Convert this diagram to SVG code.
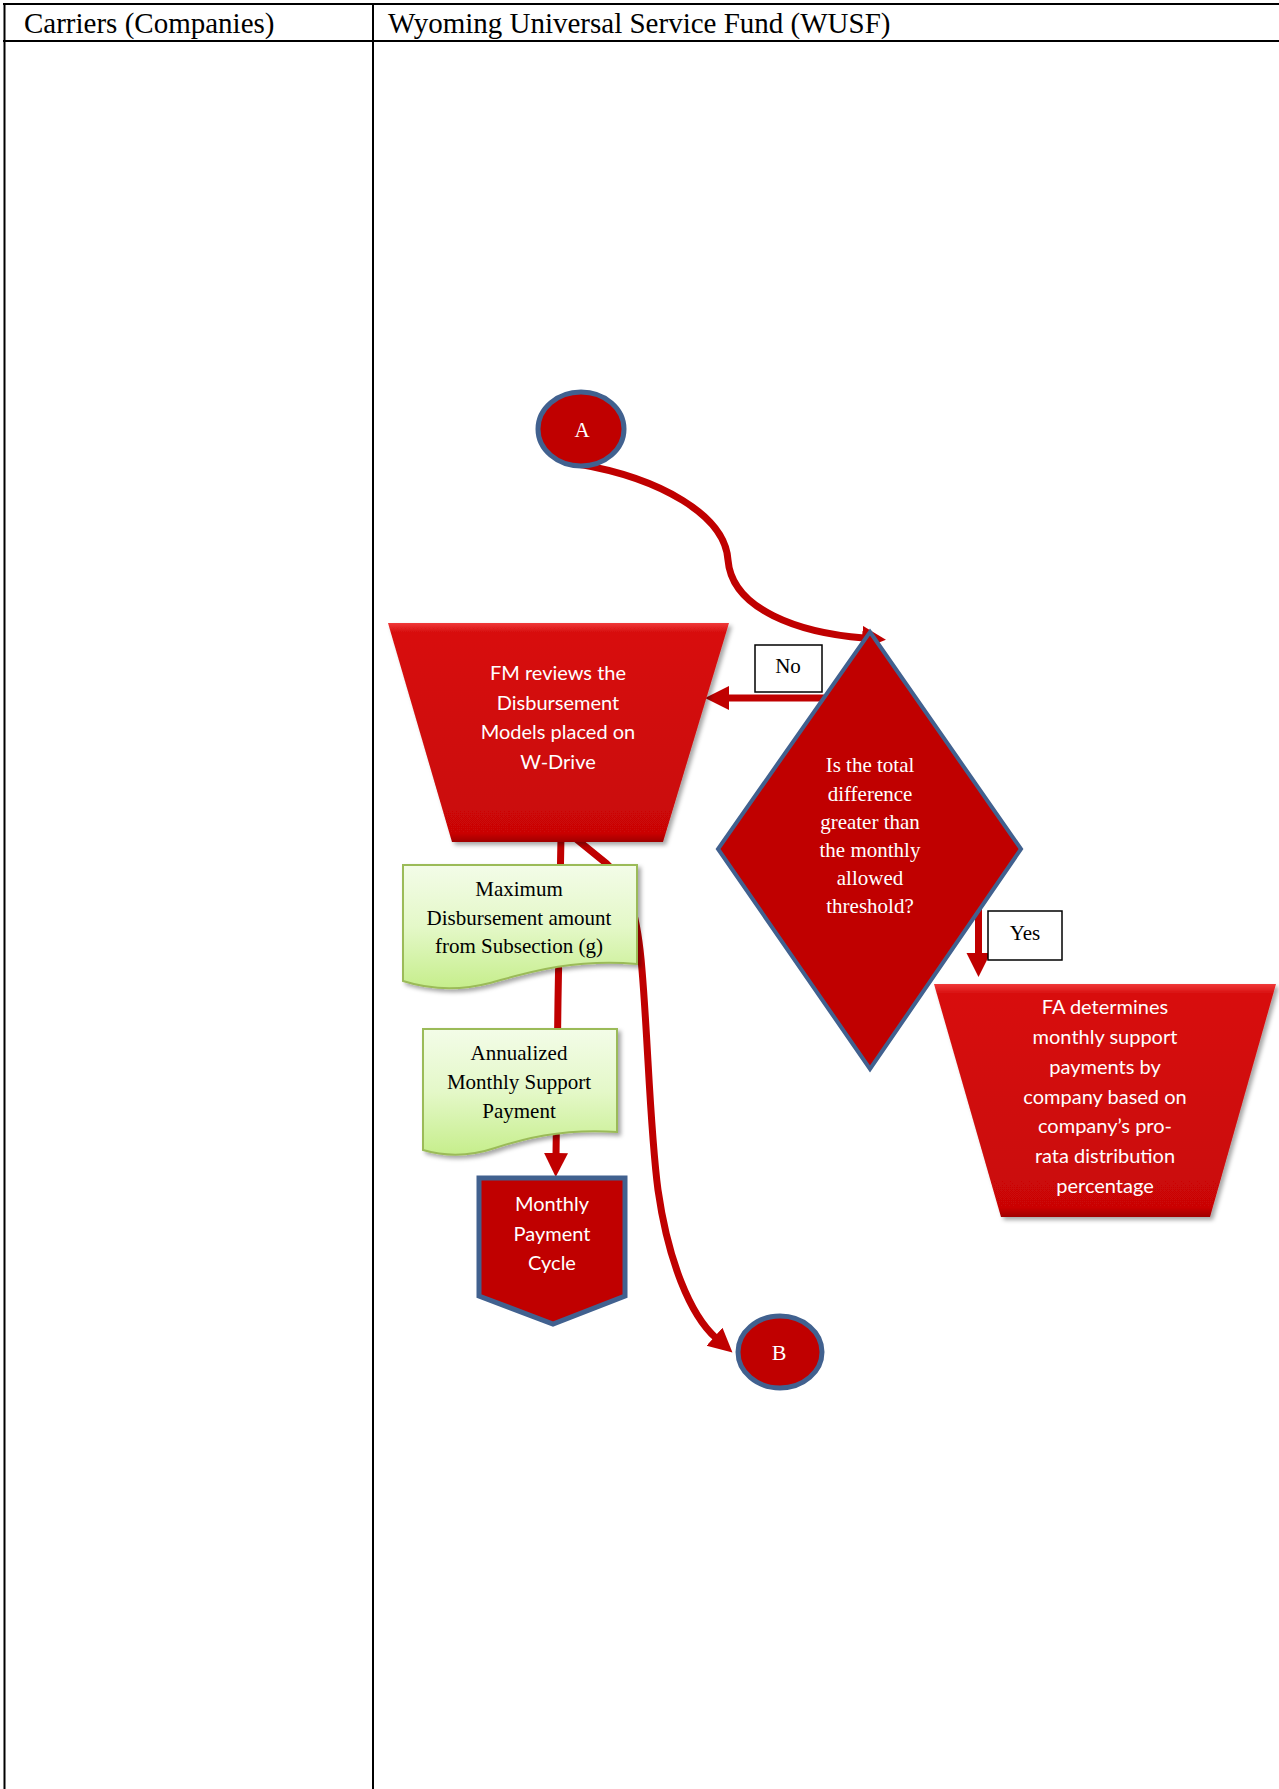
<svg xmlns="http://www.w3.org/2000/svg" width="1279" height="1789" viewBox="0 0 1279 1789">
<style>
.grid{stroke:#000;stroke-width:2;fill:none}
.hdr{font-family:"Liberation Serif","Times New Roman",serif;font-size:29px;fill:#000}
.serif{font-family:"Liberation Serif","Times New Roman",serif;font-size:21px;text-anchor:middle}
.sans{font-family:Lato,"Open Sans",sans-serif;font-size:20px;text-anchor:middle;fill:#fff}
.white{fill:#fff}
.black{fill:#000}
.conn{fill:none;stroke:#C00000;stroke-width:7}
.circ{fill:#C00000;stroke:#41618F;stroke-width:5}
.dia{fill:#C00000;stroke:#41618F;stroke-width:4}
.trap{fill:url(#redGrad);filter:url(#shadow)}
.doc{fill:url(#greenGrad);stroke:#9BBB59;stroke-width:2;filter:url(#shadow)}
.lbl{fill:#fff;stroke:#000;stroke-width:1.5}
</style>
<defs>
<linearGradient id="redGrad" x1="0" y1="0" x2="0" y2="1">
<stop offset="0" stop-color="#F03A3A"/>
<stop offset="0.04" stop-color="#D81010"/>
<stop offset="0.5" stop-color="#D00A0A"/>
<stop offset="0.96" stop-color="#CA0606"/>
<stop offset="1" stop-color="#A00000"/>
</linearGradient>
<linearGradient id="greenGrad" x1="0" y1="0" x2="0" y2="1">
<stop offset="0" stop-color="#F3FCE8"/>
<stop offset="0.5" stop-color="#E4F8C8"/>
<stop offset="1" stop-color="#C6EE8C"/>
</linearGradient>
<filter id="shadow" x="-10%" y="-10%" width="125%" height="125%">
<feDropShadow dx="3" dy="3" stdDeviation="2" flood-color="#000" flood-opacity="0.35"/>
</filter>
<marker id="arrow" markerUnits="userSpaceOnUse" markerWidth="26" markerHeight="26" refX="2" refY="12" orient="auto">
<path d="M0,0 L24,12 L0,24 Z" fill="#C00000"/>
</marker>
</defs>

<g id="table">
<line class="grid" x1="3" y1="4" x2="1279" y2="4"/>
<line class="grid" x1="3" y1="41" x2="1279" y2="41"/>
<line class="grid" x1="4.5" y1="3" x2="4.5" y2="1789"/>
<line class="grid" x1="373" y1="3" x2="373" y2="1789"/>
<text class="hdr" x="24" y="33">Carriers (Companies)</text>
<text class="hdr" x="388" y="33">Wyoming Universal Service Fund (WUSF)</text>
</g>

<g id="connectors">
<path class="conn" d="M578,464 C660,478 725,515 728,560 C732,610 800,633 864,638" marker-end="url(#arrow)"/>
<path class="conn" d="M840,698 L727,698" marker-end="url(#arrow)"/>
<path class="conn" d="M978.5,905 L978.5,955" marker-end="url(#arrow)"/>
<path class="conn" d="M561,836 L558,1000 L556,1155" marker-end="url(#arrow)"/>
<path class="conn" d="M575,838 L607,864 C630,885 638,920 642,970 C648,1040 650,1130 658,1190 C668,1260 690,1315 716,1338" marker-end="url(#arrow)"/>
</g>

<g id="nodeA">
<ellipse class="circ" cx="581" cy="429" rx="43" ry="37"/>
<text class="serif white" x="582" y="437">A</text>
</g>

<g id="nodeFM">
<polygon class="trap" points="388,623 729,623 663,842 452,842"/>
<text class="sans" x="558" y="680">FM reviews the</text>
<text class="sans" x="558" y="710">Disbursement</text>
<text class="sans" x="558" y="739">Models placed on</text>
<text class="sans" x="558" y="769">W-Drive</text>
</g>

<g id="labelNo">
<rect class="lbl" x="755" y="645" width="67" height="47"/>
<text class="serif black" x="788" y="673">No</text>
</g>

<g id="nodeDecision">
<polygon class="dia" points="870,632 1021,849 870,1069 718,849"/>
<text class="serif white" x="870" y="772">Is the total</text>
<text class="serif white" x="870" y="801">difference</text>
<text class="serif white" x="870" y="829">greater than</text>
<text class="serif white" x="870" y="857">the monthly</text>
<text class="serif white" x="870" y="885">allowed</text>
<text class="serif white" x="870" y="913">threshold?</text>
</g>

<g id="labelYes">
<rect class="lbl" x="988" y="911" width="74" height="49"/>
<text class="serif black" x="1025" y="940">Yes</text>
</g>

<g id="nodeFA">
<polygon class="trap" points="934,984 1276,984 1210,1217 1001,1217"/>
<text class="sans" x="1105" y="1014">FA determines</text>
<text class="sans" x="1105" y="1044">monthly support</text>
<text class="sans" x="1105" y="1074">payments by</text>
<text class="sans" x="1105" y="1104">company based on</text>
<text class="sans" x="1105" y="1133">company’s pro-</text>
<text class="sans" x="1105" y="1163">rata distribution</text>
<text class="sans" x="1105" y="1193">percentage</text>
</g>

<g id="docMax">
<path class="doc" d="M403,865 H637 V964 C570,958 520,975 490,983 C455,992 425,988 403,981 Z"/>
<text class="serif black" x="519" y="896">Maximum</text>
<text class="serif black" x="519" y="925">Disbursement amount</text>
<text class="serif black" x="519" y="953">from Subsection (g)</text>
</g>

<g id="docAnnual">
<path class="doc" d="M423,1029 H617 V1132 C560,1128 520,1140 495,1148 C465,1158 440,1155 423,1150 Z"/>
<text class="serif black" x="519" y="1060">Annualized</text>
<text class="serif black" x="519" y="1089">Monthly Support</text>
<text class="serif black" x="519" y="1118">Payment</text>
</g>

<g id="nodeMPC">
<path class="circ" d="M479,1178 H625 V1296 L553,1324 L479,1296 Z"/>
<text class="sans" x="552" y="1211">Monthly</text>
<text class="sans" x="552" y="1241">Payment</text>
<text class="sans" x="552" y="1270">Cycle</text>
</g>

<g id="nodeB">
<ellipse class="circ" cx="780" cy="1352" rx="42" ry="36"/>
<text class="serif white" x="779" y="1360" style="font-size:22px">B</text>
</g>
</svg>
